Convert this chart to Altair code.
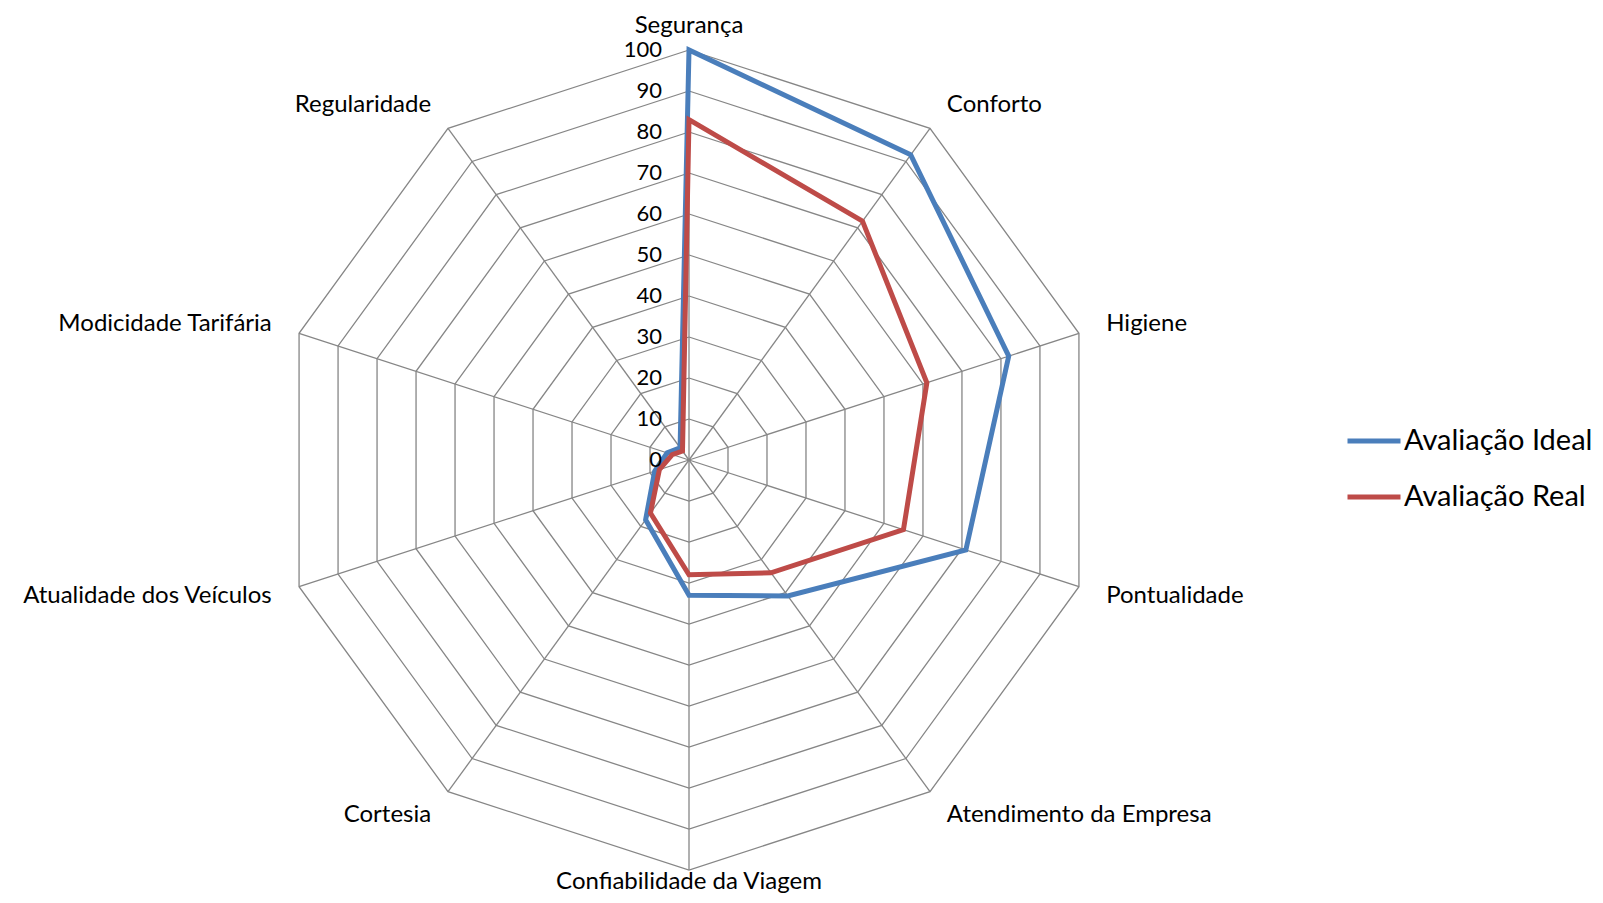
import altair as alt
import pandas as pd
import numpy as np

categories = ["Segurança", "Conforto", "Higiene", "Pontualidade", "Atendimento da Empresa",
              "Confiabilidade da Viagem", "Cortesia", "Atualidade dos Veículos",
              "Modicidade Tarifária", "Regularidade"]
ideal = [100, 92, 82, 71, 41, 33, 18, 8.8, 5.6, 3.7]
real = [83, 72, 61, 55, 34, 28, 16, 7.6, 4.3, 2.7]
series_names = ["Avaliação Ideal", "Avaliação Real"]
series_colors = ["#4A7EBB", "#BE4B48"]
tick_values = [0, 10, 20, 30, 40, 50, 60, 70, 80, 90, 100]

FONT = "Lato"
n = len(categories)
ang = [2 * np.pi * i / n for i in range(n)]
rmax = max(tick_values)

# geometry of the drawing area
PX = 4.1            # pixels per value unit
W, H = 1587, 887
CX, CY = 681, 452   # centre of the radar inside the plot area
x_dom = [-CX / PX, (W - CX) / PX]
y_dom = [-(H - CY) / PX, CY / PX]
xs = alt.Scale(domain=x_dom, nice=False, zero=False)
ys = alt.Scale(domain=y_dom, nice=False, zero=False)

# grid rings
ring_rows = []
for lv in tick_values[1:]:
    for k in range(n + 1):
        a = ang[k % n]
        ring_rows.append({"ring": lv, "k": k, "x": lv * np.sin(a), "y": lv * np.cos(a)})
rings = pd.DataFrame(ring_rows)

# spokes
spokes = pd.DataFrame({"x": [0.0] * n, "y": [0.0] * n,
                       "x2": [rmax * np.sin(a) for a in ang],
                       "y2": [rmax * np.cos(a) for a in ang]})

# series
ser_rows = []
for name, vals in zip(series_names, [ideal, real]):
    for k in range(n + 2):
        a = ang[k % n]
        v = vals[k % n]
        ser_rows.append({"serie": name, "k": k, "x": v * np.sin(a), "y": v * np.cos(a)})
ser = pd.DataFrame(ser_rows)

# tick labels
ticks = pd.DataFrame({"t": [str(v) for v in tick_values], "x": [0.0] * len(tick_values),
                      "y": tick_values})

# category labels
lab_rows = []
for c, a in zip(categories, ang):
    s, co = np.sin(a), np.cos(a)
    if s > 0.3:
        grp, pad = "left", 7.0
    elif s < -0.3:
        grp, pad = "right", 7.0
    elif co > 0:
        grp, pad = "top", 4.2
    else:
        grp, pad = "bottom", 4.6
    lab_rows.append({"cat": c, "x": (rmax + pad) * s, "y": (rmax + pad) * co, "grp": grp})
labs = pd.DataFrame(lab_rows)

grid_color = "#868686"

ring_layer = alt.Chart(rings).mark_line(color=grid_color, strokeWidth=1.3).encode(
    x=alt.X("x:Q", scale=xs, axis=None),
    y=alt.Y("y:Q", scale=ys, axis=None),
    detail="ring:N", order="k:Q")

spoke_layer = alt.Chart(spokes).mark_rule(color=grid_color, strokeWidth=1.3).encode(
    x=alt.X("x:Q", scale=xs, axis=None), y=alt.Y("y:Q", scale=ys, axis=None),
    x2="x2:Q", y2="y2:Q")

ser_layer = alt.Chart(ser).mark_line(strokeWidth=5, strokeJoin="miter").encode(
    x=alt.X("x:Q", scale=xs, axis=None),
    y=alt.Y("y:Q", scale=ys, axis=None),
    order="k:Q",
    color=alt.Color("serie:N", sort=series_names,
                    scale=alt.Scale(domain=series_names, range=series_colors),
                    legend=alt.Legend(title=None, orient="none", legendX=1337, legendY=404,
                                      symbolType="stroke", symbolSize=2809,
                                      symbolStrokeWidth=5, labelFont=FONT, labelFontSize=29,
                                      labelColor="#000000", labelLimit=400, labelOffset=1,
                                      rowPadding=12, padding=0)))

tick_layer = alt.Chart(ticks).mark_text(align="right", baseline="middle", dx=-27,
                                        font=FONT, fontSize=22, color="#000000").encode(
    x=alt.X("x:Q", scale=xs, axis=None), y=alt.Y("y:Q", scale=ys, axis=None), text="t:N")

grp_style = {"left": ("left", "middle"), "right": ("right", "middle"),
             "top": ("center", "alphabetic"), "bottom": ("center", "alphabetic")}
lab_layers = []
for grp, (al, bl) in grp_style.items():
    lab_layers.append(
        alt.Chart(labs[labs["grp"] == grp]).mark_text(align=al, baseline=bl, font=FONT,
                                                      fontSize=24, color="#000000").encode(
            x=alt.X("x:Q", scale=xs, axis=None), y=alt.Y("y:Q", scale=ys, axis=None),
            text="cat:N"))

chart = alt.layer(ring_layer, spoke_layer, ser_layer, tick_layer, *lab_layers).properties(
    width=W, height=H, autosize=alt.AutoSizeParams(type="none"), padding=0,
    background="#ffffff"
).configure_view(stroke=None)

chart.save("out.html", embed_options={"renderer": "svg", "actions": False})
